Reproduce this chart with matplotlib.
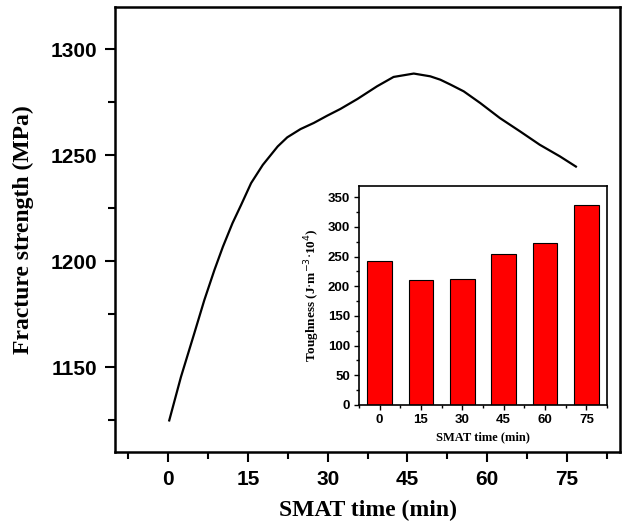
import numpy as np
import matplotlib
matplotlib.use('Agg')
import matplotlib.pyplot as plt
from matplotlib.ticker import MultipleLocator

# fracture strength curve
time_curve = [0.2, 2.4, 4.9, 6.8, 8.7, 10.3, 12.1, 13.7, 15.6, 17.8, 20.6, 22.4,
              24.9, 27.4, 29.9, 32.4, 35.6, 39.3, 42.4, 46.2, 49.3, 51.2, 53.1,
              55.6, 58.7, 62.4, 66.2, 69.9, 73.7, 76.7]
strength = [1124.9, 1145.4, 1165.9, 1181.7, 1195.9, 1206.9, 1218.0, 1226.5,
            1236.9, 1245.5, 1254.2, 1258.5, 1262.4, 1265.3, 1268.7, 1271.9,
            1276.6, 1282.6, 1287.0, 1288.6, 1287.3, 1285.7, 1283.4, 1280.2,
            1274.7, 1267.6, 1261.3, 1255.0, 1249.5, 1244.7]

# toughness bars (inset)
smat_time = [0, 15, 30, 45, 60, 75]
toughness = [242, 211, 213, 254, 273, 337]

serif = 'Liberation Serif'
sans = 'Liberation Sans'

fig = plt.figure(figsize=(6.33, 5.24), dpi=100)
ax = fig.add_axes([0.1817, 0.1374, 0.7978, 0.8492])

ax.plot(time_curve, strength, color='black', lw=1.6, solid_joinstyle='round')
ax.set_xlim(-10, 85)
ax.set_ylim(1110, 1320)
ax.set_xticks(smat_time)
ax.xaxis.set_minor_locator(MultipleLocator(7.5))
ax.set_yticks([1150, 1200, 1250, 1300])
ax.yaxis.set_minor_locator(MultipleLocator(25))
ax.tick_params(which='major', direction='out', length=7, width=1.5,
               top=False, right=False, pad=6)
ax.tick_params(which='minor', direction='out', length=5, width=1.5,
               top=False, right=False)
for lab in ax.get_xticklabels() + ax.get_yticklabels():
    lab.set_fontfamily(sans)
    lab.set_fontweight('bold')
    lab.set_fontsize(15)
for s in ax.spines.values():
    s.set_linewidth(1.8)
ax.set_xlabel('SMAT time (min)', fontfamily=serif, fontweight='bold',
              fontsize=17, labelpad=8)
ax.set_ylabel('Fracture strength (MPa)', fontfamily=serif, fontweight='bold',
              fontsize=17, labelpad=12)

# inset
ins = fig.add_axes([0.5671, 0.2271, 0.3918, 0.4179])
ins.bar(smat_time, toughness, width=9, color='#ff0000', edgecolor='black',
        linewidth=0.8)
ins.set_xlim(-7.5, 82.5)
ins.set_ylim(0, 369)
ins.set_xticks(smat_time)
ins.xaxis.set_minor_locator(MultipleLocator(7.5))
ins.set_yticks(np.arange(0, 351, 50))
ins.yaxis.set_minor_locator(MultipleLocator(25))
ins.tick_params(which='major', direction='out', length=3.5, width=1,
                top=False, right=False, pad=3)
ins.tick_params(which='minor', direction='out', length=2.5, width=1,
                top=False, right=False)
for lab in ins.get_xticklabels() + ins.get_yticklabels():
    lab.set_fontfamily(sans)
    lab.set_fontweight('bold')
    lab.set_fontsize(9.5)
for s in ins.spines.values():
    s.set_linewidth(1.2)
ins.set_xlabel('SMAT time (min)', fontfamily=serif, fontweight='bold',
               fontsize=9, labelpad=4)
ins.set_ylabel(r'Toughness (J$\cdot$m$^{-3}$$\cdot$10$^{4}$)', fontfamily=serif,
               fontweight='bold', fontsize=9.5, labelpad=4)

fig.savefig('out.png', dpi=100)
